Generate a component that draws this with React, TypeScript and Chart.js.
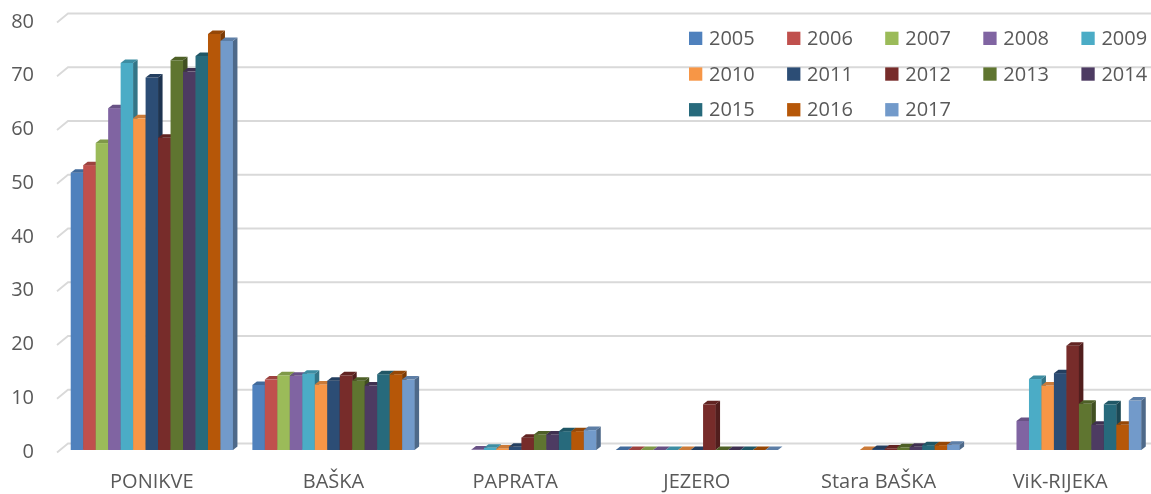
import React, { useEffect, useRef } from 'react';
import { Chart, registerables } from 'chart.js';

Chart.register(...registerables);

const categories = ['PONIKVE', 'BAŠKA', 'PAPRATA', 'JEZERO', 'Stara BAŠKA', 'ViK-RIJEKA'];
const years = ['2005', '2006', '2007', '2008', '2009', '2010', '2011', '2012', '2013', '2014', '2015', '2016', '2017'];
const colors = ['#4F81BD', '#C0504D', '#9BBB59', '#8064A2', '#4BACC6', '#F79646', '#2C4D75', '#772C2A', '#5F7530', '#4D3B62', '#276A7C', '#B65708', '#729ACA'];
const yTicks = [0, 10, 20, 30, 40, 50, 60, 70, 80];

const v2005 = [51.6, 12.1, null, 0, null, null];
const v2006 = [53.0, 13.1, null, 0, null, null];
const v2007 = [57.1, 13.9, null, 0, null, null];
const v2008 = [63.6, 13.8, 0.1, 0, null, 5.4];
const v2009 = [72.0, 14.2, 0.4, 0, null, 13.2];
const v2010 = [61.7, 12.2, 0.3, 0, 0, 12.0];
const v2011 = [69.3, 12.9, 0.6, 0, 0.2, 14.3];
const v2012 = [58.1, 13.9, 2.3, 8.5, 0.3, 19.4];
const v2013 = [72.5, 12.9, 2.9, 0, 0.5, 8.6];
const v2014 = [70.4, 12.0, 2.9, 0, 0.6, 4.7];
const v2015 = [73.3, 14.1, 3.5, 0, 0.9, 8.5];
const v2016 = [77.4, 14.1, 3.5, 0, 0.9, 4.7];
const v2017 = [76.1, 13.1, 3.7, 0, 1.0, 9.2];

const seriesValues = [v2005, v2006, v2007, v2008, v2009, v2010, v2011, v2012, v2013, v2014, v2015, v2016, v2017];

const FONT = "'Open Sans', 'Noto Sans', sans-serif";
const TEXT = '#595959';
const DX = 4.5;
const DY = 3.5;

function shade(hex: string, f: number) {
  const n = parseInt(hex.slice(1), 16);
  const r = Math.round(((n >> 16) & 255) * f);
  const g = Math.round(((n >> 8) & 255) * f);
  const b = Math.round((n & 255) * f);
  return `rgb(${r},${g},${b})`;
}

const bars3d = {
  id: 'bars3d',
  beforeDatasetsDraw(chart: any) {
    const ctx = chart.ctx;
    const ys = chart.scales.y;
    const area = chart.chartArea;
    ctx.save();
    ctx.strokeStyle = '#d9d9d9';
    ctx.lineWidth = 1.8;
    ys.ticks.forEach((t: any) => {
      const py = ys.getPixelForValue(t.value);
      ctx.beginPath();
      ctx.moveTo(area.left - 4, py + 2.5);
      ctx.lineTo(area.left + 7, py - 6.5);
      ctx.lineTo(area.right, py - 6.5);
      ctx.stroke();
    });
    const n = chart.data.labels.length;
    const dsCount = chart.data.datasets.length;
    for (let j = 0; j < n; j++) {
      for (let i = 0; i < dsCount; i++) {
        const val = chart.data.datasets[i].data[j];
        if (val === null || val === undefined) continue;
        const meta = chart.getDatasetMeta(i);
        const el = meta.data[j];
        const p = el.getProps(['x', 'y', 'base', 'width'], true);
        const l = p.x - p.width / 2;
        const r = p.x + p.width / 2;
        const top = Math.min(p.y, p.base);
        const base = Math.max(p.y, p.base);
        const c = colors[i];
        ctx.fillStyle = c;
        ctx.fillRect(l, top, r - l + 0.3, base - top);
        ctx.fillStyle = shade(c, 0.68);
        ctx.beginPath();
        ctx.moveTo(r, top);
        ctx.lineTo(r + DX, top - DY);
        ctx.lineTo(r + DX, base - DY);
        ctx.lineTo(r, base);
        ctx.closePath();
        ctx.fill();
        ctx.fillStyle = shade(c, 0.82);
        ctx.beginPath();
        ctx.moveTo(l, top);
        ctx.lineTo(l + DX, top - DY);
        ctx.lineTo(r + DX, top - DY);
        ctx.lineTo(r, top);
        ctx.closePath();
        ctx.fill();
      }
    }
    ctx.restore();
    return false;
  },
};

const gridLegend = {
  id: 'gridLegend',
  afterDraw(chart: any) {
    const ctx = chart.ctx;
    ctx.save();
    ctx.font = `20px ${FONT}`;
    ctx.textBaseline = 'middle';
    ctx.textAlign = 'left';
    chart.data.datasets.forEach((ds: any, i: number) => {
      const col = i % 5;
      const row = Math.floor(i / 5);
      const bx = 689 + col * 98.1;
      const by = 31.7 + row * 35.7;
      ctx.fillStyle = colors[i];
      ctx.fillRect(bx, by, 13.3, 13.3);
      ctx.fillStyle = TEXT;
      ctx.fillText(ds.label, bx + 20, by + 7.5);
    });
    ctx.restore();
  },
};

export default function App() {
  const ref = useRef<HTMLCanvasElement>(null);
  useEffect(() => {
    document.body.style.margin = '0';
    Chart.defaults.font.family = FONT;
    const chart = new Chart(ref.current as HTMLCanvasElement, {
      type: 'bar',
      data: {
        labels: categories,
        datasets: years.map((yr, i) => ({
          label: yr,
          data: seriesValues[i],
          backgroundColor: colors[i],
          barPercentage: 1,
          categoryPercentage: 0.893,
        })),
      },
      options: {
        animation: false,
        responsive: true,
        maintainAspectRatio: false,
        layout: { padding: { top: 20, right: 0, bottom: 0, left: 0 } },
        plugins: {
          legend: { display: false },
          tooltip: { enabled: false },
        },
        scales: {
          x: {
            grid: { display: false, drawTicks: false },
            border: { display: false },
            ticks: {
              color: TEXT,
              font: { size: 20, family: FONT },
              padding: 20,
              maxRotation: 0,
              autoSkip: false,
            },
            afterFit: (s: any) => {
              s.height = 44;
              s.paddingLeft = 0;
              s.paddingRight = 0;
            },
          },
          y: {
            min: 0,
            max: 80,
            afterBuildTicks: (s: any) => {
              s.ticks = yTicks.map((v) => ({ value: v }));
            },
            grid: { display: false, drawTicks: false },
            border: { display: false },
            ticks: {
              color: TEXT,
              font: { size: 20, family: FONT },
              padding: 27,
              labelOffset: 2,
            },
            afterFit: (s: any) => {
              s.width = 61;
              s.paddingTop = 0;
              s.paddingBottom = 0;
            },
          },
        },
      },
      plugins: [bars3d, gridLegend],
    });
    return () => chart.destroy();
  }, []);
  return (
    <div style={{ position: 'relative', width: 1151, height: 494 }}>
      <canvas ref={ref} />
    </div>
  );
}
